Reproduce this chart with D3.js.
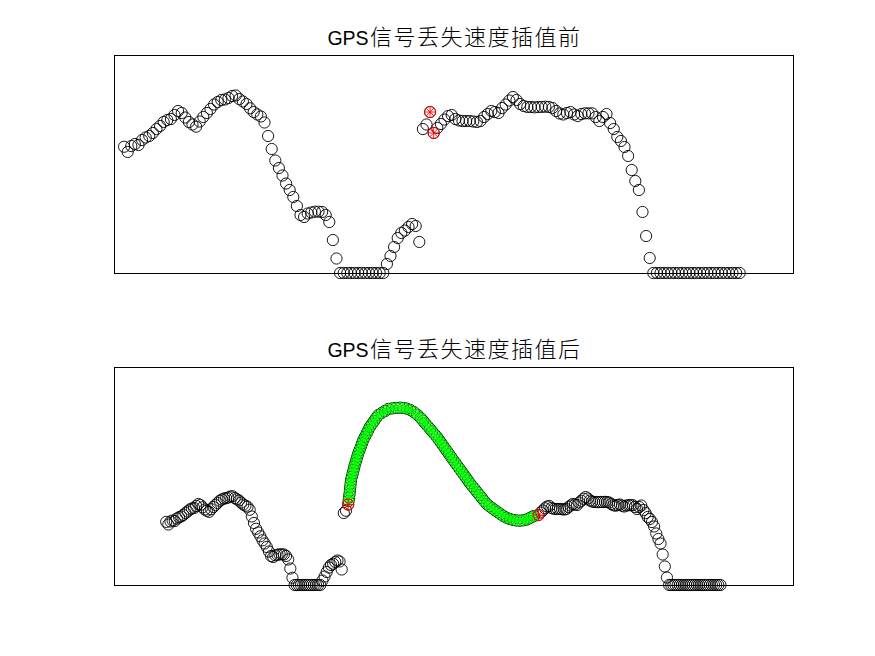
<!DOCTYPE html>
<html><head><meta charset="utf-8">
<script src="https://cdn.jsdelivr.net/npm/d3@7"></script>
<style>body{margin:0;background:#fff}</style>
</head><body>
<svg id="c" width="875" height="656"></svg>
<script>
// raw GPS speed samples (km/h), sample index 1..172
const rawSpeed = [
 14.48,13.88,14.56,14.79,14.68,15.25,15.54,15.71,16.06,16.51,
 16.86,17.32,17.55,17.66,18.12,18.58,18.35,17.83,17.32,17.03,
 16.78,17.37,17.89,18.35,18.81,19.32,19.61,19.84,19.90,20.07,
 20.30,20.36,19.95,19.67,19.38,18.89,18.46,18.18,17.95,17.26,
 15.71,14.22,12.90,12.04,11.18,10.26,9.52,8.72,7.68,6.65,
 6.42,6.82,6.94,7.03,7.03,7.00,6.65,5.85,3.78,1.66,
 0,0,0,0,0,0,0,0,0,0,0,0,0,
 1.03,1.95,2.98,4.01,4.59,4.87,5.28,5.62,5.39,3.56,
 16.51,17.03,18.46,16.06,16.63,17.09,17.60,18.00,18.12,17.66,
 17.49,17.43,17.43,17.43,17.37,17.32,17.43,17.89,18.23,18.58,
 18.46,18.35,18.92,19.32,19.78,20.18,19.84,19.38,19.15,19.04,
 19.04,19.00,19.04,19.04,19.07,19.04,18.92,18.58,18.29,18.18,
 18.35,18.46,18.18,18.00,18.23,18.31,18.31,18.31,17.89,17.43,
 17.89,18.23,17.20,16.51,15.60,15.14,14.45,13.42,11.81,10.55,
 9.52,7.00,4.24,1.72,
 0,0,0,0,0,0,0,0,0,0,0,0,0,0,0,0,0,0,0,0,0,0,0,0,0
];
// samples bounding the signal loss (1-based index)
const lostIndex = [86, 87];
// seconds of missing signal between them
const gapSeconds = 88;
// interpolated speeds during the loss
const greenTime = [
 86.22,86.43,86.65,86.83,87.01,87.18,87.36,87.75,88.13,88.52,
 88.90,89.37,89.84,90.30,90.77,91.35,91.94,92.52,93.10,93.88,
 94.67,95.45,96.23,97.20,98.17,99.14,100.11,101.67,103.23,104.79,
 106.61,108.43,110.25,111.86,113.47,115.08,116.69,118.30,119.91,120.98,
 122.05,123.12,124.19,125.26,126.33,127.40,128.37,129.34,130.31,131.28,
 132.25,133.22,134.19,135.16,136.14,137.11,138.09,139.06,140.04,141.01,
 141.99,142.96,144.08,145.19,146.31,147.42,148.54,149.65,150.77,152.06,
 153.35,154.65,155.94,157.23,158.52,160.09,161.66,163.22,164.79,166.36,
 167.93,169.46,170.60,171.74,172.87
];
const greenSpeed = [
 19.26,20.07,20.87,21.67,22.48,23.28,24.08,24.84,25.61,26.37,
 27.13,27.90,28.67,29.44,30.21,30.97,31.74,32.50,33.26,34.02,
 34.79,35.55,36.31,36.98,37.65,38.32,38.99,39.45,39.91,40.37,
 40.50,40.62,40.67,40.60,40.45,40.15,39.65,39.05,38.30,37.69,
 37.07,36.46,35.85,35.24,34.62,34.01,33.34,32.68,32.01,31.34,
 30.67,30.01,29.34,28.67,28.00,27.34,26.67,26.00,25.33,24.67,
 24.00,23.33,22.65,21.97,21.29,20.62,19.94,19.26,18.58,18.08,
 17.60,17.14,16.70,16.26,15.83,15.43,15.12,14.91,14.79,14.76,
 14.84,15.02,15.28,15.55,15.83
];
const titleLatin = ["GPS", "GPS"];
const titleCJK = ["信号丢失速度插值前", "信号丢失速度插值后"];
const topXLim = [-1.8, 186.8], bottomXLim = [-23.4, 293.9];
const topYLim = [0, 25], bottomYLim = [0, 50];

const svg = d3.select("#c");
const R = 5.6;
const starPath = r => { const d = r * 0.707; return `M${-r},0L${r},0M0,${-r}L0,${r}M${-d},${-d}L${d},${d}M${-d},${d}L${d},${-d}`; };

const panels = [
  {top: 55, xLim: topXLim, yLim: topYLim},
  {top: 367, xLim: bottomXLim, yLim: bottomYLim}
];
const L = 114, W = 679, H = 218;

panels.forEach((p, k) => {
  p.x = d3.scaleLinear().domain(p.xLim).range([L, L + W]);
  p.y = d3.scaleLinear().domain(p.yLim).range([p.top + H, p.top]);
  const g = svg.append("g");
  g.append("rect").attr("x", L + 0.5).attr("y", p.top + 0.5).attr("width", W).attr("height", H)
    .attr("fill", "none").attr("stroke", "#000").attr("stroke-width", 1);
  const t = g.append("text").attr("x", L + W / 2 + 1).attr("y", p.top - 10.5)
    .attr("text-anchor", "middle").attr("fill", "#000");
  t.append("tspan").attr("font-family", "'Liberation Sans', Arial, sans-serif").attr("font-size", 19.5).text(titleLatin[k]);
  t.append("tspan").attr("font-family", "'Noto Sans CJK SC', sans-serif").attr("font-size", 22)
    .attr("font-weight", 300).attr("letter-spacing", 1.5).attr("dx", 1.5).text(titleCJK[k]);
  p.g = g;
});

// top: raw by sample index
const topPts = rawSpeed.map((v, i) => ({t: i + 1, v}));
// bottom: by time, with the loss gap opened
const botPts = rawSpeed.map((v, i) => ({t: (i + 1) <= lostIndex[0] ? i + 1 : i + 1 + gapSeconds, v}));
const greenPts = greenTime.map((t, i) => ({t, v: greenSpeed[i]}));

function circles(g, p, data, color, sw, r) {
  g.append("g").selectAll("circle").data(data).join("circle")
    .attr("cx", d => p.x(d.t)).attr("cy", d => p.y(d.v)).attr("r", r)
    .attr("fill", "none").attr("stroke", color).attr("stroke-width", sw);
}
function stars(g, p, data, color, sw, r) {
  g.append("g").selectAll("path").data(data).join("path")
    .attr("transform", d => `translate(${p.x(d.t)},${p.y(d.v)})`)
    .attr("d", starPath(r)).attr("fill", "none").attr("stroke", color).attr("stroke-width", sw);
}

const P0 = panels[0], P1 = panels[1];
circles(P0.g, P0, topPts, "#000", 0.9, R);
const redTop = lostIndex.map(i => topPts[i - 1]);
circles(P0.g, P0, redTop, "#ff0000", 0.9, R);
stars(P0.g, P0, redTop, "#ff0000", 0.9, R);

circles(P1.g, P1, botPts, "#000", 0.9, R);
circles(P1.g, P1, greenPts, "#000", 1.0, R);
circles(P1.g, P1, greenPts, "#00ff00", 0.7, R - 0.6);
stars(P1.g, P1, greenPts, "#00ff00", 0.9, R);
const redBot = lostIndex.map(i => botPts[i - 1]);
circles(P1.g, P1, redBot, "#ff0000", 0.9, R);
stars(P1.g, P1, redBot, "#ff0000", 0.9, R);
</script>
</body></html>
